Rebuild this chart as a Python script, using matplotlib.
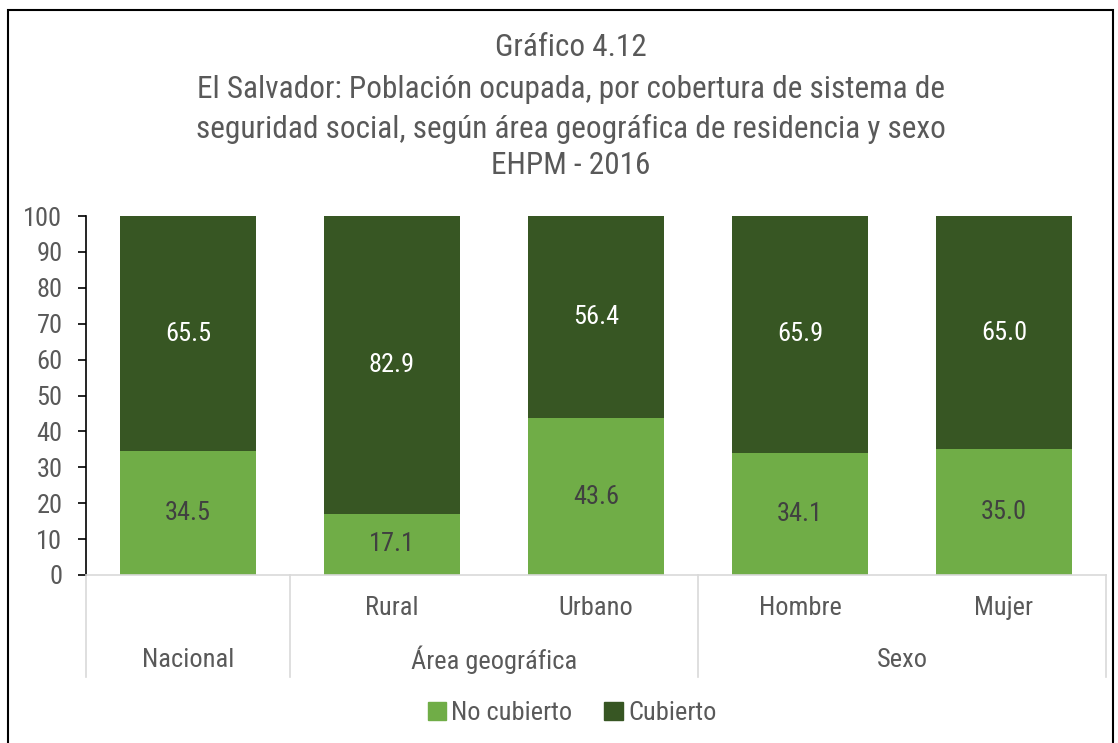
import matplotlib
matplotlib.use("Agg")
from matplotlib import pyplot as plt, font_manager
from matplotlib.patches import Rectangle, Patch
from matplotlib.lines import Line2D
import matplotlib.transforms as mtransforms

# prefer a narrow face like the original (Arial Narrow); otherwise Liberation Sans
names = {f.name for f in font_manager.fontManager.ttflist}
narrow = [n for n in ['Liberation Sans Narrow', 'Arial Narrow', 'Roboto Condensed'] if n in names]
if narrow:
    plt.rcParams['font.family'] = [narrow[0], 'DejaVu Sans']
    fs_title, fs_lab = 22.5, 19
else:
    plt.rcParams['font.family'] = ['Liberation Sans', 'DejaVu Sans']
    fs_title, fs_lab = 19, 16

categories = ['', 'Rural', 'Urbano', 'Hombre', 'Mujer']
groups = ['Nacional', 'Área geográfica', 'Sexo']
group_spans = [(0, 0), (1, 2), (3, 4)]
no_cubierto = [34.5, 17.1, 43.6, 34.1, 35.0]
cubierto = [65.5, 82.9, 56.4, 65.9, 65.0]

light = '#70AD47'
dark = '#375623'
gray = '#595959'

W, H = 1118, 743
fig = plt.figure(figsize=(W / 100, H / 100), dpi=100)

# outer frame
fig.patches.append(Rectangle((8 / W, -0.01), (1113 - 8) / W, 1 - 10 / H + 0.01,
                             transform=fig.transFigure, fill=False,
                             edgecolor='black', linewidth=1.5))

ax = fig.add_axes([86 / W, 1 - 575 / H, (1106 - 86) / W, (575 - 216) / H])

x = range(len(categories))
ax.bar(x, no_cubierto, width=0.67, color=light, label='No cubierto')
ax.bar(x, cubierto, width=0.67, bottom=no_cubierto, color=dark, label='Cubierto')

for i in x:
    ax.text(i, no_cubierto[i] / 2, f'{no_cubierto[i]:.1f}', ha='center', va='center',
            fontsize=fs_lab, color='#404040')
    ax.text(i, no_cubierto[i] + cubierto[i] / 2, f'{cubierto[i]:.1f}', ha='center',
            va='center', fontsize=fs_lab, color='white')

ax.set_xlim(-0.5, len(categories) - 0.5)
ax.set_ylim(0, 100)
ax.set_yticks(range(0, 101, 10))
ax.tick_params(axis='y', labelsize=fs_lab, labelcolor=gray, length=6, width=1.2,
               color='black', pad=11)
ax.set_xticks([])
for s in ['top', 'right']:
    ax.spines[s].set_visible(False)
ax.spines['left'].set_color('black')
ax.spines['left'].set_linewidth(1.2)
ax.spines['bottom'].set_color('#D9D9D9')
ax.spines['bottom'].set_linewidth(1.2)

# multi-level category axis
trans = mtransforms.blended_transform_factory(ax.transData, fig.transFigure)
y_lvl1 = 1 - 608 / H
y_lvl2 = 1 - 660 / H
y_sep = 1 - 677 / H
for i, c in enumerate(categories):
    if c:
        ax.text(i, y_lvl1, c, transform=trans, ha='center', va='center',
                fontsize=fs_lab, color=gray)
for g, (a, b) in zip(groups, group_spans):
    ax.text((a + b) / 2, y_lvl2, g, transform=trans, ha='center', va='center',
            fontsize=fs_lab, color=gray)
seps = [-0.5] + [b + 0.5 for a, b in group_spans]
for s in seps:
    ax.add_line(Line2D([s, s], [1 - 575 / H, y_sep], transform=trans,
                       color='#D9D9D9', linewidth=1.2, clip_on=False))

title_lines = ['Gráfico 4.12',
               'El Salvador: Población ocupada, por cobertura de sistema de',
               'seguridad social, según área geográfica de residencia y sexo',
               'EHPM - 2016']
for line, ypx in zip(title_lines, [48, 90, 129, 166]):
    fig.text(571 / W, 1 - ypx / H, line, ha='center', va='center',
             fontsize=fs_title, color=gray)

handles = [Patch(color=light, label='No cubierto'), Patch(color=dark, label='Cubierto')]
leg = fig.legend(handles=handles, loc='center', bbox_to_anchor=(572 / W, 1 - 713 / H),
                 ncol=2, frameon=False, fontsize=fs_lab, handlelength=0.7, handleheight=0.7,
                 handletextpad=0.2, columnspacing=1.2)
for t in leg.get_texts():
    t.set_color(gray)

fig.savefig('out.png', dpi=100)
